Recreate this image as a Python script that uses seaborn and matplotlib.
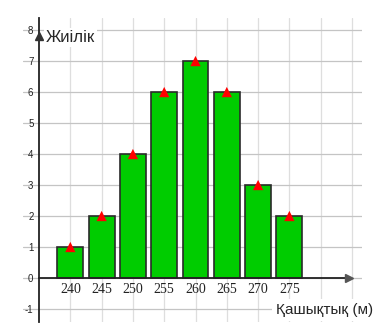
import matplotlib
matplotlib.use("Agg")
import matplotlib.pyplot as plt
import seaborn as sns
import pandas as pd

# ---- data ----
distances = [240, 245, 250, 255, 260, 265, 270, 275]
frequencies = [1, 2, 4, 6, 7, 6, 3, 2]
x_grid_ticks = [240, 245, 250, 255, 260, 265, 270, 275, 280, 285]
x_tick_labels = ["240", "245", "250", "255", "260", "265", "270", "275", "", ""]
y_ticks = [-1, 0, 1, 2, 3, 4, 5, 6, 7, 8]
y_label = "Жиілік"
x_label = "Қашықтық (м)"

df = pd.DataFrame({"dist": distances, "freq": frequencies})

sns.set_style("white")
plt.rcParams["font.family"] = ["Liberation Sans", "DejaVu Sans"]
plt.rcParams["font.serif"] = ["Liberation Serif", "DejaVu Serif"]

W, H = 390, 334
fig = plt.figure(figsize=(W / 100, H / 100), dpi=100)
ax = fig.add_axes([23 / W, 12 / H, (362 - 23) / W, 304 / H])

sns.barplot(data=df, x="dist", y="freq", native_scale=True, width=0.83,
            color="#00cc00", saturation=1, edgecolor="#2a2a2a", linewidth=1.2,
            ax=ax, zorder=3)
sns.scatterplot(data=df, x="dist", y="freq", marker="^", color="#ff0000",
                s=55, edgecolor="none", ax=ax, zorder=5, clip_on=False)

ax.set_xlim(232.44, 286.6)
ax.set_ylim(-1.42, 8.39)

ax.set_xticks(x_grid_ticks, x_tick_labels)
ax.set_yticks(y_ticks, [str(v) for v in y_ticks])
ax.tick_params(axis="x", length=0, pad=3.5, colors="#222222",
               labelfontfamily="serif", labelsize=10)
ax.tick_params(axis="y", length=0, pad=4.0, colors="#222222", labelsize=7)

ax.grid(axis="y", color="#c4c4c4", linewidth=0.9, zorder=0)
ax.grid(axis="x", color="#dedede", linewidth=0.9, zorder=0)
ax.set_axisbelow(True)

for s in ["top", "right"]:
    ax.spines[s].set_visible(False)
ax.spines["bottom"].set_position(("data", 0))
ax.spines["bottom"].set_bounds(235, 284.5)
ax.spines["left"].set_position(("data", 235))
ax.spines["left"].set_bounds(-1.42, 8.39)
for s in ["bottom", "left"]:
    ax.spines[s].set_color("#222222")
    ax.spines[s].set_linewidth(1.3)
    ax.spines[s].set_zorder(4)

# arrow heads
ax.plot([284.5], [0], marker=">", color="#555555", markersize=6, clip_on=False, zorder=6)
ax.plot([235], [7.8], marker="^", color="#333333", markersize=5.5, clip_on=False, zorder=6)

ax.set_xlabel("")
ax.set_ylabel("")

fig.text(46 / W, 1 - 37 / H, y_label, fontsize=12, ha="left", va="center",
         bbox=dict(facecolor="white", edgecolor="none", pad=1.5))
fig.text(276 / W, 1 - 310 / H, x_label, fontsize=11, ha="left", va="center",
         bbox=dict(facecolor="white", edgecolor="none", pad=2.5))

fig.savefig("out.png", dpi=100)
